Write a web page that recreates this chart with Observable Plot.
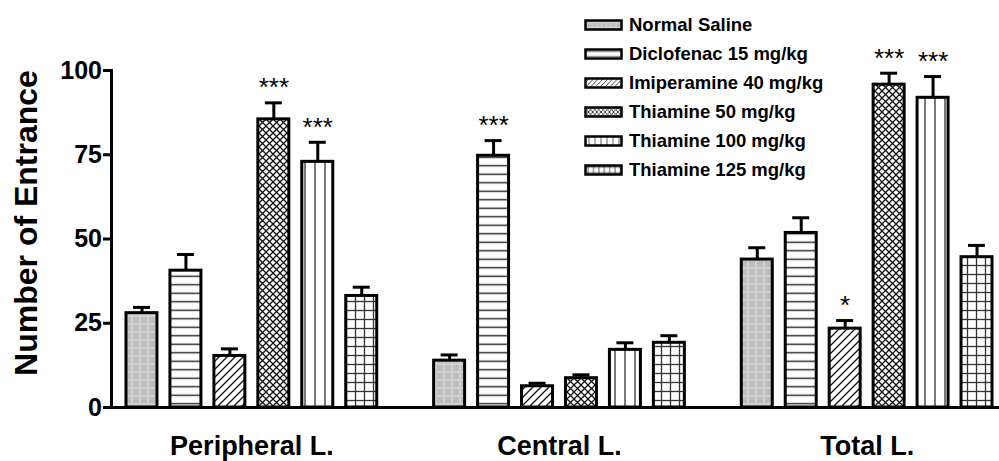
<!DOCTYPE html>
<html><head><meta charset="utf-8">
<script src="https://cdn.jsdelivr.net/npm/d3@7"></script>
<script src="https://cdn.jsdelivr.net/npm/@observablehq/plot@0.6"></script>
<style>
body{margin:0;background:#fff;font-family:"Liberation Sans",Arial,sans-serif;}
#wrap{position:relative;width:999px;height:461px;overflow:hidden;background:#fff}
#legend{position:absolute;left:580px;top:10px}
</style></head><body><div id="wrap"></div>
<script>
const groups = ["Peripheral L.", "Central L.", "Total L."];
const treatments = ["Normal Saline", "Diclofenac 15 mg/kg", "Imiperamine 40 mg/kg", "Thiamine 50 mg/kg", "Thiamine 100 mg/kg", "Thiamine 125 mg/kg"];
const peripheralMean = [28.0, 40.6, 15.3, 85.5, 72.9, 33.1];
const peripheralSem  = [1.7, 4.8, 2.1, 4.9, 5.8, 2.6];
const centralMean    = [13.9, 74.7, 6.3, 8.7, 17.1, 19.2];
const centralSem     = [1.7, 4.5, 0.9, 1.0, 2.1, 2.1];
const totalMean      = [43.9, 51.8, 23.4, 95.8, 91.9, 44.6];
const totalSem       = [3.5, 4.5, 2.4, 3.4, 6.3, 3.5];
const peripheralSig  = ["", "", "", "***", "***", ""];
const centralSig     = ["", "***", "", "", "", ""];
const totalSig       = ["", "", "*", "***", "***", ""];
const yTicks = [0, 25, 50, 75, 100];
const yLabel = "Number of Entrance";
const patternIds = ["pSaline", "pDiclo", "pImip", "pT50", "pT100", "pT125"];

const means = [peripheralMean, centralMean, totalMean];
const sems = [peripheralSem, centralSem, totalSem];
const sigs = [peripheralSig, centralSig, totalSig];
const data = groups.flatMap((g, gi) => treatments.map((t, ti) => ({
  group: g, treatment: t, key: g + "|" + t,
  mean: means[gi][ti], sem: sems[gi][ti], top: means[gi][ti] + sems[gi][ti], sig: sigs[gi][ti]
})));
const xDomain = groups.flatMap((g, gi) => [...treatments.map(t => g + "|" + t), ...(gi < groups.length - 1 ? ["gap" + gi] : [])]);

function patternDefs(prefix, scale) {
  const tr = scale === 1 ? "" : ` patternTransform="scale(${scale})"`;
  return `
  <pattern id="${prefix}pSaline" patternUnits="userSpaceOnUse" width="8" height="8"${tr}>
    <rect width="8" height="8" fill="#bdbdbd"/>
    <rect x="0" y="3" width="8" height="2" fill="#d0d0d0"/>
    <rect x="3" y="0" width="2" height="8" fill="#d0d0d0"/>
  </pattern>
  <pattern id="${prefix}pDiclo" patternUnits="userSpaceOnUse" width="8" height="8.5"${tr}>
    <rect width="8" height="8.5" fill="#fff"/>
    <line x1="0" x2="8" y1="4.25" y2="4.25" stroke="#222" stroke-width="1.4"/>
  </pattern>
  <pattern id="${prefix}pImip" patternUnits="userSpaceOnUse" width="8" height="8"${tr}>
    <rect width="8" height="8" fill="#fff"/>
    <path d="M0,8L8,0M-2,2L2,-2M6,10L10,6" stroke="#111" stroke-width="1.3"/>
  </pattern>
  <pattern id="${prefix}pT50" patternUnits="userSpaceOnUse" width="7" height="7"${tr}>
    <rect width="7" height="7" fill="#fff"/>
    <path d="M0,0L7,7M7,0L0,7" stroke="#111" stroke-width="1.3"/>
  </pattern>
  <pattern id="${prefix}pT100" patternUnits="userSpaceOnUse" width="10" height="10"${tr}>
    <rect width="10" height="10" fill="#fff"/>
    <line x1="5" x2="5" y1="0" y2="10" stroke="#333" stroke-width="1.3"/>
  </pattern>
  <pattern id="${prefix}pT125" patternUnits="userSpaceOnUse" width="9" height="9"${tr}>
    <rect width="9" height="9" fill="#fff"/>
    <line x1="4.5" x2="4.5" y1="0" y2="9" stroke="#333" stroke-width="1.3"/>
    <line x1="0" x2="9" y1="4.5" y2="4.5" stroke="#333" stroke-width="1.3"/>
  </pattern>`;
}

const chart = Plot.plot({
  width: 999, height: 461,
  marginLeft: 111, marginRight: 0, marginTop: 70, marginBottom: 54,
  style: {fontFamily: "Liberation Sans, Arial, sans-serif", background: "white", color: "black"},
  x: {domain: xDomain, range: [111, 1007], paddingInner: 0.295, paddingOuter: 0.341, round: false, axis: null},
  y: {domain: [0, 100], axis: null},
  color: {domain: treatments, range: patternIds.map(id => `url(#${id})`)},
  marks: [
    Plot.ruleX(data, {x: "key", y1: "mean", y2: "top", stroke: "black", strokeWidth: 3}),
    Plot.tickY(data, {x: "key", y: "top", stroke: "black", strokeWidth: 3, insetLeft: 7, insetRight: 7}),
    Plot.barY(data, {x: "key", y: "mean", fill: "treatment", stroke: "black", strokeWidth: 3}),
    Plot.text(data.filter(d => d.sig), {x: "key", y: "top", text: "sig", dy: -15, fontSize: 26, lineAnchor: "middle", fill: "black"}),
    Plot.ruleY([0], {stroke: "black", strokeWidth: 3}),
    Plot.axisY({ticks: yTicks, tickSize: 8, tickPadding: 1.5, fontSize: 25, fontWeight: "bold", strokeWidth: 3, label: null, fill: "black"}),
    Plot.frame({anchor: "left", strokeWidth: 3, stroke: "black"}),
    Plot.text(groups, {x: g => g + "|" + treatments[2], text: d => d, dx: 22, frameAnchor: "bottom", dy: 39, fontSize: 27, fontWeight: "bold", lineAnchor: "middle", fill: "black"}),
    Plot.text([yLabel], {text: d => d, frameAnchor: "left", textAnchor: "middle", rotate: -90, dx: -85, dy: -16, fontSize: 32, fontWeight: "bold", fill: "black"})
  ]
});
d3.select(chart).insert("defs", ":first-child").html(patternDefs("", 1));
document.getElementById("wrap").appendChild(chart);

// Legend overlay
const legend = d3.create("svg").attr("id", "legend").attr("width", 260).attr("height", 180);
legend.append("defs").html(patternDefs("l", 0.6));
const row = legend.selectAll("g").data(treatments).join("g")
  .attr("transform", (d, i) => `translate(0,${15 + i * 29})`);
row.append("rect").attr("x", 5.5).attr("y", -4.5).attr("width", 36).attr("height", 9)
  .attr("fill", (d, i) => `url(#l${patternIds[i]})`).attr("stroke", "black").attr("stroke-width", 2.5);
row.append("text").attr("x", 49).attr("dy", "0.35em").attr("font-size", 18.5).attr("font-weight", "bold")
  .attr("font-family", "Liberation Sans, Arial, sans-serif").text(d => d);
document.getElementById("wrap").appendChild(legend.node());
</script>
</body></html>
